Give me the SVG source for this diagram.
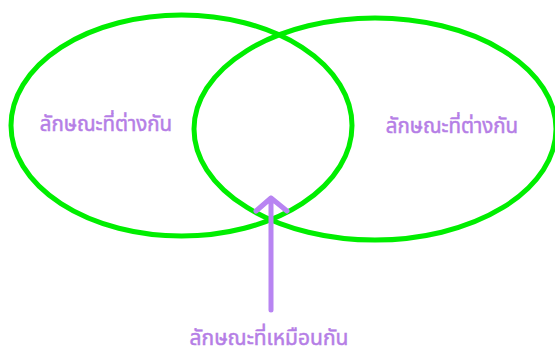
<svg xmlns="http://www.w3.org/2000/svg" width="555" height="349" viewBox="0 0 555 349">
<defs>
<style>
.set{fill:none;stroke:#00ee00;stroke-width:5}
.lbl{font-family:"Noto Sans Thai","Noto Sans","DejaVu Sans",sans-serif;fill:#b57ee6;stroke:#b57ee6;stroke-width:0.5}
.conn{fill:none;stroke:#b884f2;stroke-width:5;stroke-linecap:round;stroke-linejoin:round}
</style>
</defs>
<rect width="555" height="349" fill="#ffffff"/>
<g id="left-set">
<ellipse class="set" cx="181.5" cy="125.5" rx="170.5" ry="110.5"/>
<text class="lbl" x="106" y="131" font-size="20.5" text-anchor="middle">ลักษณะที่ต่างกัน</text>
</g>
<g id="right-set">
<ellipse class="set" cx="375" cy="129" rx="181" ry="111"/>
<text class="lbl" x="452" y="133" font-size="20.5" text-anchor="middle">ลักษณะที่ต่างกัน</text>
</g>
<g id="common-label">
<text class="lbl" x="269" y="345" font-size="21" text-anchor="middle">ลักษณะที่เหมือนกัน</text>
</g>
<g id="connectors">
<path class="conn" d="M271 310 V198 M256 211 L271 198 L287 211"/>
</g>
</svg>
